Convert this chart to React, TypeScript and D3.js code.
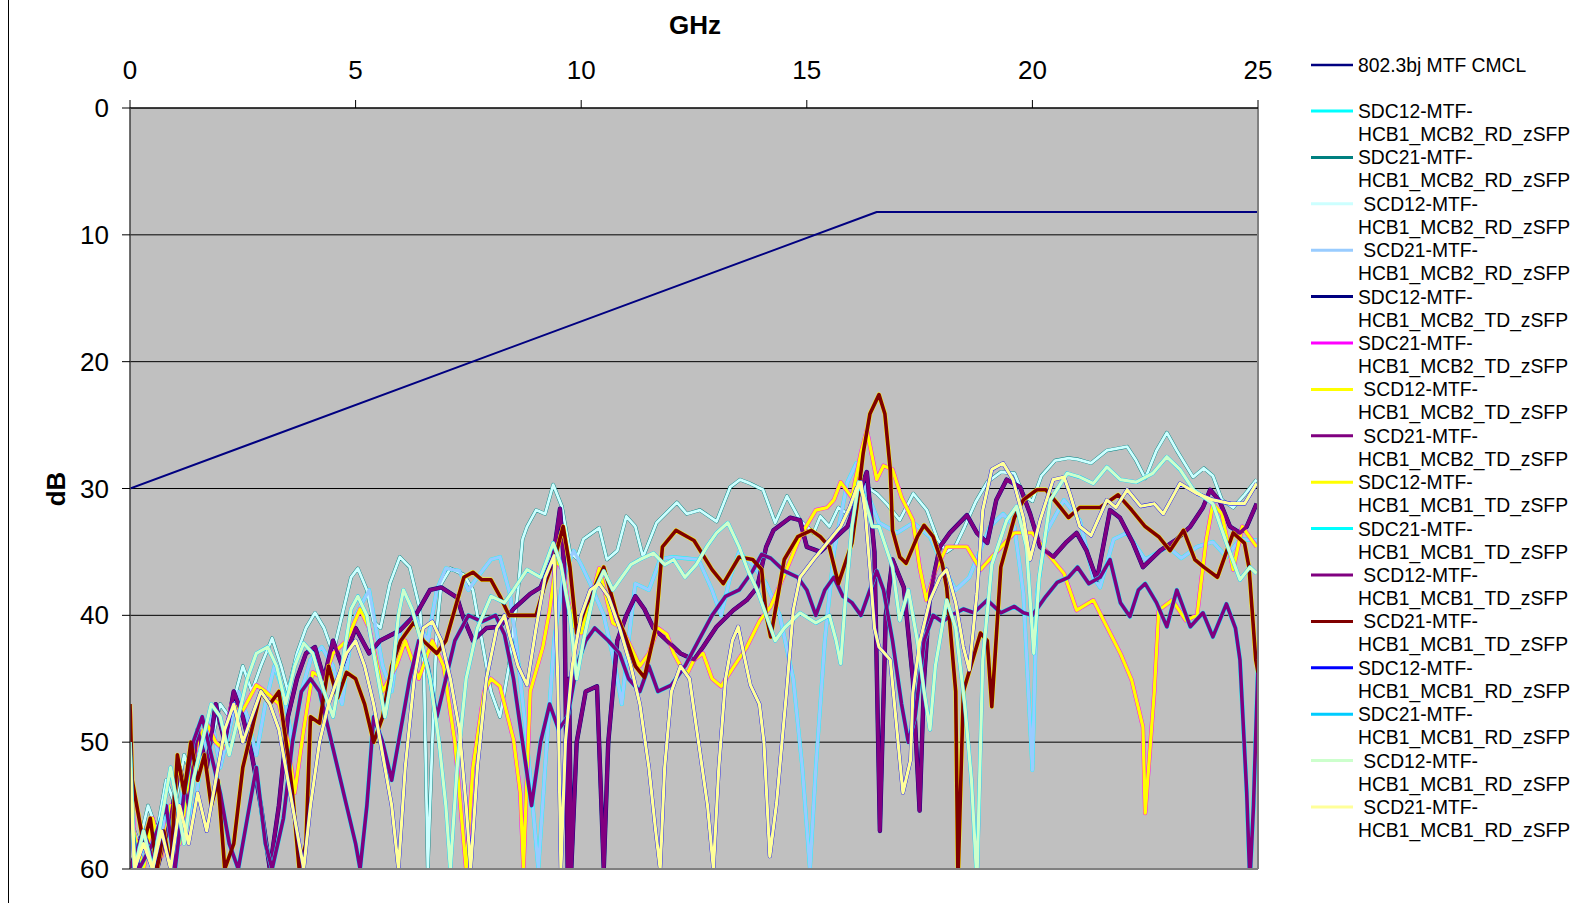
import React from 'react';
import * as d3 from 'd3';

type Pt = [number, number];

// [GHz, dB]
const limitCMCL: Pt[] = [[0, 30], [16.55, 8.2], [25, 8.2]];

// SDC21 / SCD12 MCB2 RD (teal under light cyan)
const curveA: Pt[] = [
  [0, 56], [0.2, 58], [0.4, 55], [0.6, 57], [0.8, 53], [1.0, 55], [1.2, 51], [1.4, 53], [1.6, 49], [1.8, 50],
  [2.0, 47], [2.2, 48], [2.5, 44], [2.7, 46], [2.9, 44], [3.15, 41.8], [3.35, 44], [3.5, 46], [3.7, 43], [3.9, 41],
  [4.1, 39.8], [4.3, 41], [4.5, 43], [4.7, 40], [4.9, 37], [5.05, 36.3], [5.25, 38], [5.4, 40.5], [5.55, 41], [5.76, 37.5],
  [5.98, 35.4], [6.2, 36.2], [6.43, 39.6], [6.52, 45], [6.6, 60], [6.7, 50], [6.8, 41], [6.9, 37.5], [7.1, 36.3], [7.4, 36.8],
  [7.6, 38], [7.8, 42], [8.0, 46], [8.2, 48], [8.4, 44], [8.6, 38], [8.7, 34], [8.8, 33], [9.0, 31.7], [9.2, 32],
  [9.38, 29.7], [9.57, 31.4], [9.75, 35], [9.9, 35.5], [10.05, 34], [10.4, 33.1], [10.57, 35.6], [10.8, 34.9], [11.0, 32.2], [11.2, 33],
  [11.37, 35.4], [11.67, 32.7], [12.12, 31.1], [12.34, 32], [12.63, 31.7], [13.0, 32.6], [13.3, 29.9], [13.52, 29.3], [13.74, 29.6], [14.03, 30.1],
  [14.3, 32.7], [14.56, 30.6], [14.85, 32.5], [15.15, 33.5], [15.3, 32.2], [15.5, 33], [15.7, 31.5], [15.9, 32], [16.1, 30.5], [16.3, 29.8],
  [16.55, 30.4], [16.77, 31.2], [17.06, 32.5], [17.36, 30.4], [17.66, 31.7], [17.9, 34], [18.1, 35], [18.3, 34.5], [18.5, 33], [18.75, 31],
  [19.0, 29.5], [19.3, 28.7], [19.6, 28.8], [19.8, 30.5], [20.0, 31], [20.2, 29], [20.5, 27.8], [20.8, 27.6], [21.0, 27.7], [21.3, 28.0],
  [21.65, 27.0], [22.1, 26.7], [22.3, 27.8], [22.5, 29.2], [22.75, 27], [22.98, 25.6], [23.2, 27], [23.56, 29.1], [23.8, 28.4], [24.0, 29],
  [24.2, 30.9], [24.45, 31.5], [24.7, 30.5], [24.97, 29.3],
];

// SDC12 / SCD21 MCB2 RD (cyan under pale blue)
const curveB: Pt[] = [
  [0, 55], [0.15, 60], [0.4, 57], [0.6, 60], [0.8, 55], [1.0, 58], [1.2, 53], [1.4, 56], [1.6, 51], [1.8, 48],
  [2.0, 52], [2.2, 49], [2.4, 46], [2.6, 48], [2.8, 51], [3.0, 47], [3.2, 44], [3.4, 46], [3.6, 50], [3.8, 46],
  [4.0, 43.5], [4.25, 42.5], [4.5, 44], [4.7, 47], [4.85, 43], [5.0, 40], [5.3, 38], [5.6, 44], [5.8, 46], [6.0, 41],
  [6.3, 40], [6.6, 42], [6.8, 38], [7.0, 36.3], [7.3, 36.5], [7.5, 38], [7.7, 37], [8.0, 35.6], [8.2, 35.4], [8.42, 38.3],
  [8.57, 42.5], [8.8, 50], [9.05, 60], [9.2, 52], [9.4, 42], [9.6, 37], [9.83, 34.9], [10.0, 36], [10.2, 37.5], [10.5, 40],
  [10.75, 44], [10.9, 47], [11.05, 42], [11.2, 37.5], [11.5, 38], [11.75, 35.6], [12.0, 35.4], [12.3, 35.5], [12.6, 35.6], [12.9, 38],
  [13.1, 40], [13.3, 37], [13.5, 35], [13.8, 36], [14.1, 37.5], [14.4, 40], [14.7, 45], [14.9, 52], [15.07, 60], [15.2, 52],
  [15.4, 42], [15.6, 35], [15.9, 29.5], [16.1, 28], [16.3, 30], [16.6, 32.7], [17.0, 33.5], [17.36, 32.7], [17.73, 33.8], [18.0, 36],
  [18.3, 38], [18.6, 37], [19.06, 33], [19.35, 32], [19.6, 33], [19.8, 38.3], [20.0, 52.2], [20.1, 38.3], [20.3, 33.5], [20.7, 30.9],
  [21.05, 32.5], [21.35, 37], [21.5, 37.8], [21.8, 34], [22.1, 33.5], [22.5, 35.6], [23.0, 34.6], [23.3, 35.5], [23.65, 34.6], [24.0, 34.2],
  [24.3, 35.4], [24.6, 34], [25, 34.1],
];

// SDC12 / SCD21 MCB2 TD (navy under purple)
const curveC: Pt[] = [
  [0, 60], [0.3, 57], [0.6, 60], [0.9, 56], [1.1, 52], [1.3, 55], [1.5, 49], [1.7, 52], [1.9, 47], [2.1, 50],
  [2.3, 46], [2.5, 48], [2.7, 51], [2.9, 55], [3.1, 60], [3.3, 55], [3.5, 48], [3.7, 45], [3.9, 43], [4.1, 42.5],
  [4.3, 45], [4.5, 42], [4.7, 44], [5.0, 41], [5.3, 43], [5.54, 42], [5.98, 41.2], [6.36, 39.8], [6.65, 38], [6.9, 37.8],
  [7.25, 38.6], [7.38, 40.1], [7.6, 42], [7.9, 41], [8.2, 40.9], [8.5, 39.5], [8.87, 38.3], [9.1, 37.8], [9.38, 35.4], [9.53, 31.6],
  [9.62, 36], [9.7, 60], [9.73, 45], [9.78, 60], [9.9, 50], [10.1, 46], [10.35, 45.6], [10.5, 60], [10.6, 50], [10.8, 42],
  [11.0, 40], [11.2, 38.5], [11.4, 39.5], [11.6, 41], [11.9, 42], [12.2, 43], [12.5, 43.5], [12.7, 42.5], [13.0, 40.9], [13.37, 39.6],
  [13.67, 38.8], [13.9, 37.8], [14.1, 34.6], [14.26, 33.3], [14.63, 32.3], [14.85, 32.5], [15.0, 34.6], [15.3, 35], [15.6, 34], [15.9, 33],
  [16.1, 31], [16.33, 28.7], [16.5, 35], [16.62, 57], [16.75, 40], [16.9, 35.6], [17.15, 37.8], [17.35, 45], [17.5, 55.4], [17.6, 45],
  [17.73, 38.3], [17.95, 34.6], [18.17, 33.5], [18.55, 32.1], [18.77, 33.5], [19.0, 34.3], [19.2, 30.9], [19.43, 29.3], [19.73, 29.9], [19.95, 32],
  [20.17, 34.6], [20.46, 35.4], [20.76, 34.2], [20.98, 33.5], [21.2, 34.9], [21.43, 37.2], [21.72, 31.7], [21.94, 32.3], [22.23, 34.3], [22.45, 36.2],
  [22.83, 34.9], [23.2, 34], [23.5, 33], [23.78, 31.5], [23.94, 30.1], [24.15, 31], [24.38, 33], [24.6, 33.5], [24.75, 33], [24.97, 31.2],
];

// SDC21 / SCD12 MCB2 TD (magenta under yellow)
const curveD: Pt[] = [
  [0, 47.5], [0.08, 57], [0.3, 60], [0.5, 56], [0.7, 59], [0.9, 55], [1.1, 58], [1.3, 53], [1.5, 50], [1.7, 48.5],
  [1.9, 50], [2.05, 50.5], [2.25, 47], [2.5, 47.5], [2.8, 45.5], [3.0, 46], [3.3, 47], [3.5, 50], [3.65, 54], [3.85, 49],
  [4.05, 44.5], [4.3, 45], [4.5, 43], [4.8, 42], [5.1, 39.5], [5.3, 41], [5.6, 46], [5.9, 44], [6.1, 42], [6.4, 45],
  [6.7, 42], [6.95, 44], [7.2, 50], [7.45, 60], [7.6, 52], [7.85, 46], [8.0, 45], [8.2, 45.6], [8.5, 49.8], [8.65, 54],
  [8.72, 60], [8.87, 46], [9.15, 42.5], [9.3, 39.6], [9.45, 35.6], [9.6, 36.5], [9.7, 38.8], [9.85, 40.9], [10.0, 41.4], [10.15, 39.6],
  [10.4, 36.3], [10.57, 38.8], [10.7, 40.6], [10.9, 41], [11.1, 42.5], [11.3, 44], [11.5, 43], [11.7, 41], [11.9, 41.5], [12.05, 43],
  [12.2, 44], [12.35, 44.6], [12.5, 43.5], [12.7, 43], [12.9, 45], [13.1, 45.6], [13.37, 44.1], [13.67, 42.5], [13.96, 40.4], [14.2, 39.3],
  [14.55, 36.4], [14.85, 33.8], [15.2, 31.7], [15.45, 31.5], [15.6, 30.9], [15.75, 29.5], [16.0, 30.7], [16.2, 27.2], [16.33, 25.4], [16.45, 27.5],
  [16.55, 29.3], [16.7, 28.2], [16.9, 28.5], [17.1, 30.7], [17.35, 32.5], [17.5, 36.2], [17.65, 38.8], [17.85, 36.5], [18.1, 34.6], [18.55, 34.6],
  [18.85, 36.4], [19.1, 35.4], [19.6, 33.5], [20.0, 33.5], [20.4, 35.4], [20.7, 36.7], [20.98, 39.6], [21.35, 38.8], [21.65, 40.9], [21.95, 43],
  [22.2, 45.1], [22.45, 48.8], [22.5, 55.6], [22.7, 46.1], [22.8, 39.6], [23.1, 38.8], [23.4, 40.4], [23.65, 40], [23.85, 34.1], [24.0, 31.2],
  [24.2, 32], [24.45, 36.4], [24.65, 33], [24.97, 34.6],
];

// SDC12 / SCD21 MCB1 TD (yellow under maroon)
const curveE: Pt[] = [
  [0, 47], [0.05, 53], [0.15, 55], [0.3, 58], [0.45, 56], [0.6, 60], [0.75, 57], [0.9, 60], [1.05, 51], [1.2, 54],
  [1.35, 50], [1.5, 53], [1.65, 51], [1.8, 55], [1.95, 53], [2.1, 60], [2.3, 58], [2.5, 52], [2.7, 49], [2.9, 46],
  [3.1, 47], [3.3, 46], [3.5, 51], [3.6, 54], [3.75, 60], [3.9, 58], [4.0, 48], [4.2, 48.5], [4.4, 44], [4.6, 46.5],
  [4.8, 44.5], [5.0, 45], [5.2, 47], [5.4, 50], [5.6, 48], [5.8, 44], [6.0, 42], [6.3, 40.5], [6.5, 42], [6.8, 43],
  [7.0, 42], [7.2, 39.5], [7.4, 37], [7.6, 36.6], [7.8, 37.2], [8.0, 37.2], [8.2, 38.5], [8.4, 40], [8.7, 40], [9.0, 40],
  [9.2, 37.5], [9.45, 35], [9.6, 33], [9.75, 36.2], [9.9, 41.4], [10.1, 39.3], [10.5, 36.2], [10.8, 40.1], [10.95, 41.4], [11.2, 44],
  [11.4, 44.9], [11.65, 41], [11.8, 34.6], [12.1, 33.3], [12.5, 34.1], [12.9, 36.4], [13.15, 37.5], [13.5, 35.4], [13.8, 35.6], [14.0, 36.4],
  [14.1, 40], [14.2, 41.7], [14.5, 35.6], [14.8, 33.8], [15.1, 33.3], [15.3, 33.8], [15.5, 34.6], [15.7, 37.5], [16.0, 34.3], [16.1, 31.7],
  [16.25, 27.2], [16.4, 24.1], [16.6, 22.6], [16.73, 24.1], [16.85, 28.5], [16.9, 33.3], [17.06, 35.4], [17.2, 35.9], [17.45, 33.8], [17.6, 32.9],
  [17.8, 33.8], [18.0, 35.9], [18.1, 37.8], [18.3, 46], [18.35, 61], [18.47, 46], [18.85, 41.4], [19.0, 42], [19.1, 47.2], [19.3, 36.2],
  [19.6, 32.3], [19.8, 30.9], [20.1, 30.1], [20.3, 30.1], [20.6, 31.4], [20.8, 32.3], [21.05, 31.5], [21.5, 31.5], [21.9, 30.5], [22.2, 31.7],
  [22.5, 33], [22.8, 33.8], [23.05, 34.9], [23.35, 33.3], [23.6, 35.6], [23.8, 36.2], [24.1, 37], [24.45, 33.5], [24.7, 34.3], [24.8, 36.2],
  [24.95, 43.5], [25, 44.5],
];

// SDC21 / SCD12 MCB1 TD (cyan under purple)
const curveF: Pt[] = [
  [0, 56], [0.2, 60], [0.5, 58], [0.8, 55], [1.0, 60], [1.2, 54], [1.4, 50], [1.6, 48], [1.8, 51], [2.0, 54],
  [2.2, 58], [2.4, 60], [2.6, 56], [2.8, 52], [3.0, 58], [3.15, 60], [3.4, 56], [3.6, 50], [3.8, 46], [4.0, 45],
  [4.2, 46], [4.4, 49], [4.6, 52], [4.8, 55], [5.0, 58], [5.1, 60], [5.25, 55], [5.4, 48], [5.6, 50], [5.8, 53],
  [6.0, 49], [6.2, 45], [6.4, 42], [6.6, 44], [6.8, 48], [7.0, 45], [7.2, 42], [7.5, 40], [7.8, 40.5], [8.1, 40],
  [8.3, 41.5], [8.5, 45], [8.7, 50], [8.9, 55], [9.1, 50], [9.3, 47], [9.5, 49], [9.7, 48], [9.9, 44], [10.1, 42],
  [10.3, 41], [10.6, 42], [10.85, 43], [11.05, 45], [11.3, 46], [11.5, 44], [11.7, 46], [12.0, 45.5], [12.3, 44], [12.6, 42],
  [12.9, 40], [13.2, 38.5], [13.5, 38], [13.8, 36.5], [14.0, 35.2], [14.2, 35.5], [14.5, 36.5], [14.8, 37], [15.0, 38], [15.2, 40],
  [15.4, 38], [15.6, 37], [15.8, 38.5], [16.0, 39], [16.2, 40], [16.4, 38], [16.55, 36.5], [16.7, 38], [16.9, 42], [17.1, 47],
  [17.25, 50], [17.4, 48], [17.6, 42], [17.8, 40], [18.0, 40.5], [18.2, 40], [18.47, 39.5], [18.7, 39.8], [19.0, 38.8], [19.3, 39.8],
  [19.6, 39.3], [19.8, 39.8], [20.0, 40], [20.3, 38.5], [20.55, 37.4], [20.8, 37], [21.0, 36.2], [21.25, 37.5], [21.5, 37], [21.72, 35.6],
  [21.95, 39], [22.16, 40.1], [22.35, 38], [22.5, 37.5], [22.75, 39], [22.98, 40.9], [23.2, 38], [23.5, 40.9], [23.78, 39.8], [24.0, 41.7],
  [24.3, 39.1], [24.5, 41], [24.6, 43.5], [24.75, 54], [24.82, 61], [24.9, 55], [25, 44],
];

// SDC12 / SCD21 MCB1 RD (blue under light yellow)
const curveG: Pt[] = [
  [0, 52], [0.1, 60], [0.3, 58], [0.5, 60], [0.7, 57], [0.9, 60], [1.1, 55], [1.3, 58], [1.5, 54], [1.7, 57],
  [1.9, 53], [2.1, 49], [2.3, 47], [2.5, 50], [2.7, 48], [2.9, 46], [3.1, 47], [3.3, 49], [3.5, 53], [3.7, 57],
  [3.85, 60], [4.0, 55], [4.2, 50], [4.4, 47], [4.6, 45], [4.8, 43], [5.0, 42], [5.2, 44], [5.4, 47], [5.6, 51],
  [5.8, 55], [5.95, 60], [6.1, 52], [6.3, 45], [6.5, 41], [6.7, 40.5], [6.9, 42], [7.1, 45], [7.3, 49], [7.45, 55],
  [7.55, 60], [7.7, 52], [7.9, 45], [8.13, 41], [8.3, 40], [8.42, 41.7], [8.6, 44], [8.8, 45.5], [9.0, 41], [9.2, 37],
  [9.4, 35.3], [9.48, 45], [9.55, 60], [9.65, 50], [9.8, 44], [10.0, 40], [10.2, 38], [10.4, 37.5], [10.6, 38.5], [10.85, 41],
  [11.1, 44], [11.3, 47], [11.5, 52], [11.65, 57], [11.75, 60], [11.85, 52], [12.0, 46], [12.2, 44], [12.4, 45], [12.6, 50],
  [12.8, 55], [12.93, 60], [13.05, 52], [13.2, 45], [13.35, 42], [13.48, 40.9], [13.6, 43], [13.75, 45.5], [13.95, 47], [14.05, 50],
  [14.18, 59], [14.33, 54.8], [14.45, 50], [14.55, 46.1], [14.7, 39.6], [14.85, 37], [15.15, 35.6], [15.45, 34.3], [15.75, 33], [15.95, 31.5],
  [16.1, 30], [16.2, 29.5], [16.3, 32], [16.4, 36.4], [16.5, 41], [16.6, 42.5], [16.85, 43.5], [17.06, 51.4], [17.13, 54], [17.3, 51.4],
  [17.35, 46.1], [17.5, 42.2], [17.73, 38.8], [17.95, 37], [18.1, 36.4], [18.3, 39], [18.47, 42.5], [18.6, 44.3], [18.77, 38.3], [18.9, 31.7],
  [19.1, 28.5], [19.35, 28], [19.57, 29.3], [19.8, 32.3], [19.95, 35.6], [20.17, 32.5], [20.46, 29.3], [20.7, 29.1], [20.83, 30.4], [21.05, 33],
  [21.3, 33.7], [21.65, 30.9], [21.85, 31.5], [22.1, 30.1], [22.4, 31.4], [22.7, 31.2], [22.9, 32], [23.27, 29.6], [23.65, 30.4], [24.0, 30.9],
  [24.4, 31.2], [24.7, 31.2], [24.97, 29.6],
];

// SDC21 / SCD12 MCB1 RD (sky blue under light green)
const curveH: Pt[] = [
  [0, 50], [0.1, 60], [0.3, 57], [0.5, 60], [0.7, 56], [0.9, 52], [1.05, 55], [1.2, 58], [1.4, 53], [1.6, 50],
  [1.8, 47], [2.0, 48], [2.2, 51], [2.4, 48], [2.6, 45], [2.8, 43], [3.05, 42.5], [3.25, 44], [3.45, 47], [3.65, 44],
  [3.85, 42.2], [4.05, 43], [4.3, 46], [4.5, 48], [4.7, 44], [4.9, 39.5], [5.05, 38.5], [5.25, 40], [5.45, 44], [5.65, 48],
  [5.8, 45], [5.95, 40], [6.06, 38], [6.25, 39.5], [6.45, 42], [6.65, 45], [6.85, 50], [7.0, 55], [7.1, 60], [7.25, 52],
  [7.45, 45], [7.7, 41], [8.0, 38.5], [8.3, 39], [8.5, 38], [8.8, 36.4], [9.1, 37], [9.38, 34.3], [9.55, 36], [9.75, 40],
  [9.9, 45], [10.05, 42], [10.3, 38], [10.5, 36.5], [10.7, 38], [10.9, 37], [11.1, 36], [11.3, 35.6], [11.6, 35.1], [11.85, 36],
  [12.05, 35.6], [12.3, 37], [12.55, 36], [12.8, 34.5], [13.0, 33.5], [13.25, 32.7], [13.5, 34.6], [13.7, 36.5], [13.9, 38], [14.1, 40],
  [14.3, 42], [14.5, 41], [14.85, 39.8], [15.2, 40.6], [15.5, 40], [15.65, 42], [15.75, 43.8], [15.85, 39], [16.0, 33], [16.15, 29.5],
  [16.3, 31], [16.45, 33], [16.6, 33], [16.9, 36.2], [17.06, 40.4], [17.25, 38], [17.45, 42], [17.6, 46], [17.73, 49], [17.85, 44],
  [18.1, 38.8], [18.3, 41], [18.5, 47], [18.65, 53], [18.77, 61], [18.9, 43.5], [19.1, 36], [19.43, 32.5], [19.65, 31.4], [19.87, 34.6],
  [20.03, 43], [20.15, 37], [20.4, 30.9], [20.77, 28.8], [21.05, 29.1], [21.35, 29.6], [21.65, 28.3], [21.95, 29.3], [22.3, 29.5], [22.67, 28.8],
  [22.98, 27.5], [23.27, 28.5], [23.57, 30.1], [24.0, 31.2], [24.3, 34.3], [24.6, 37.2], [24.82, 36.2], [24.97, 36.7],
];

const xTicks = [0, 5, 10, 15, 20, 25];
const yTicks = [0, 10, 20, 30, 40, 50, 60];
const gridValues = [10, 20, 30, 40, 50];

const seriesNames = [
  '802.3bj MTF CMCL',
  'SDC12-MTF-|HCB1_MCB2_RD_zSFP',
  'SDC21-MTF-|HCB1_MCB2_RD_zSFP',
  '\u00a0SCD12-MTF-|HCB1_MCB2_RD_zSFP',
  '\u00a0SCD21-MTF-|HCB1_MCB2_RD_zSFP',
  'SDC12-MTF-|HCB1_MCB2_TD_zSFP',
  'SDC21-MTF-|HCB1_MCB2_TD_zSFP',
  '\u00a0SCD12-MTF-|HCB1_MCB2_TD_zSFP',
  '\u00a0SCD21-MTF-|HCB1_MCB2_TD_zSFP',
  'SDC12-MTF-|HCB1_MCB1_TD_zSFP',
  'SDC21-MTF-|HCB1_MCB1_TD_zSFP',
  '\u00a0SCD12-MTF-|HCB1_MCB1_TD_zSFP',
  '\u00a0SCD21-MTF-|HCB1_MCB1_TD_zSFP',
  'SDC12-MTF-|HCB1_MCB1_RD_zSFP',
  'SDC21-MTF-|HCB1_MCB1_RD_zSFP',
  '\u00a0SCD12-MTF-|HCB1_MCB1_RD_zSFP',
  '\u00a0SCD21-MTF-|HCB1_MCB1_RD_zSFP',
];
const seriesColors = [
  '#000080', '#00FFFF', '#008080', '#CCFFFF', '#99CCFF', '#000080', '#FF00FF', '#FFFF00', '#800080',
  '#FFFF00', '#00FFFF', '#800080', '#800000', '#0000FF', '#00CCFF', '#CCFFCC', '#FFFF99',
];
const seriesData = [
  limitCMCL, curveB, curveA, curveA, curveB, curveC, curveD, curveD, curveC,
  curveE, curveF, curveF, curveE, curveG, curveH, curveH, curveG,
];
const seriesWidths = [2, 3.8, 3.6, 2.8, 3.2, 4.4, 4.2, 3.3, 3.6, 4.4, 4.4, 3.6, 3.6, 3.9, 3.9, 3.2, 3.2];

export default function App() {
  const W = 1574;
  const H = 903;
  const left = 130, right = 1258, top = 108, bottom = 869;
  const x = d3.scaleLinear().domain([0, 25]).range([left, right]);
  const y = d3.scaleLinear().domain([0, 60]).range([top, bottom]);
  const line = d3.line<Pt>().x((d) => x(d[0])).y((d) => y(d[1]));
  const font = '"Liberation Sans", Arial, sans-serif';

  return (
    <div>
      <style>{'body{margin:0}'}</style>
      <svg width={W} height={H} style={{ display: 'block', fontFamily: font }}>
        <rect x={0} y={0} width={W} height={H} fill="#fff" />
        <line x1={8.5} x2={8.5} y1={0} y2={H} stroke="#000" strokeWidth={1} />
        <defs>
          <clipPath id="plotClip">
            <rect x={left} y={top} width={right - left} height={bottom - top} />
          </clipPath>
        </defs>
        <rect x={left} y={top} width={right - left} height={bottom - top} fill="#C0C0C0" />
        {gridValues.map((v) => (
          <line key={v} x1={left} x2={right} y1={y(v)} y2={y(v)} stroke="#000" strokeWidth={1} />
        ))}
        <g clipPath="url(#plotClip)">
          {seriesData.map((d, i) => (
            <path
              key={i}
              d={line(d) || ''}
              fill="none"
              stroke={seriesColors[i]}
              strokeWidth={seriesWidths[i]}
              strokeLinejoin="round"
            />
          ))}
        </g>
        <line x1={right} x2={right} y1={top} y2={bottom} stroke="#808080" strokeWidth={2} />
        <line x1={left} x2={right} y1={bottom} y2={bottom} stroke="#808080" strokeWidth={2} />
        <line x1={left} x2={right} y1={top} y2={top} stroke="#000" strokeWidth={1.5} />
        <line x1={left} x2={left} y1={top} y2={bottom} stroke="#404040" strokeWidth={1.5} />
        {xTicks.map((t) => (
          <g key={t}>
            <line x1={x(t)} x2={x(t)} y1={top - 8} y2={top} stroke="#000" strokeWidth={1} />
            <text x={x(t)} y={79} textAnchor="middle" fontSize={26}>{t}</text>
          </g>
        ))}
        {yTicks.map((t) => (
          <g key={t}>
            <line x1={left - 8} x2={left} y1={y(t)} y2={y(t)} stroke="#000" strokeWidth={1} />
            <text x={109} y={y(t) + 9} textAnchor="end" fontSize={26}>{t}</text>
          </g>
        ))}
        <text x={695} y={34} textAnchor="middle" fontSize={26} fontWeight="bold">GHz</text>
        <text transform="translate(65,489) rotate(-90)" textAnchor="middle" fontSize={26} fontWeight="bold">dB</text>
        {seriesNames.map((name, i) => {
          const ly = i === 0 ? 65 : 111 + (i - 1) * 46.4;
          const parts = name.split('|');
          return (
            <g key={i}>
              <line x1={1311} x2={1353} y1={ly} y2={ly} stroke={seriesColors[i]} strokeWidth={i === 0 ? 2.5 : 3} />
              <text x={1358} y={ly + 7} fontSize={19.3}>
                {parts.map((p, j) => (
                  <tspan key={j} x={1358} dy={j === 0 ? 0 : 23}>{p}</tspan>
                ))}
              </text>
            </g>
          );
        })}
      </svg>
    </div>
  );
}
